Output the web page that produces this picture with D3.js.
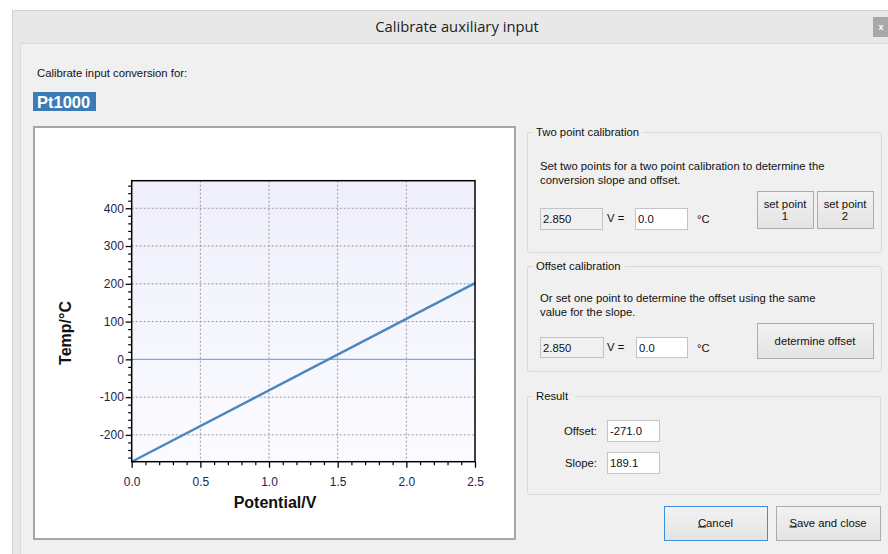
<!DOCTYPE html>
<html><head><meta charset="utf-8">
<script src="https://cdn.jsdelivr.net/npm/d3@7"></script>
<style>html,body{margin:0;padding:0;background:#fff;overflow:hidden}svg{display:block}</style>
</head><body>
<script>
// ---- data ----
const potential = [0.0, 2.5];            // V
const temperature = [-271.0, 201.75];    // °C
const xTicks = [0.0, 0.5, 1.0, 1.5, 2.0, 2.5];
const xTickLabels = ["0.0", "0.5", "1.0", "1.5", "2.0", "2.5"];
const yTicks = [-200, -100, 0, 100, 200, 300, 400];
const yTickLabels = ["-200", "-100", "0", "100", "200", "300", "400"];
const xDomain = [0, 2.5];
const yDomain = [-271, 473];
const resultOffset = "-271.0";
const resultSlope = "189.1";
const voltageReading = "2.850";
const tempEntry = "0.0";

const W = 888, H = 554;
const svg = d3.select("body").append("svg").attr("width", W).attr("height", H);
const UI = "'Liberation Sans', Arial, sans-serif";
const FS = 11.3;

const defs = svg.append("defs");
const pg = defs.append("linearGradient").attr("id", "plotbg").attr("x1", 0).attr("y1", 0).attr("x2", 0).attr("y2", 1);
pg.append("stop").attr("offset", "0%").attr("stop-color", "#efeffc");
pg.append("stop").attr("offset", "100%").attr("stop-color", "#fbfbff");
const bg = defs.append("linearGradient").attr("id", "btnbg").attr("x1", 0).attr("y1", 0).attr("x2", 0).attr("y2", 1);
bg.append("stop").attr("offset", "0%").attr("stop-color", "#f2f2f2");
bg.append("stop").attr("offset", "100%").attr("stop-color", "#e3e3e3");

// ---- dialog frame ----
svg.append("rect").attr("x", 12.5).attr("y", 10.5).attr("width", 880).attr("height", 550)
  .attr("fill", "#e8e8e8").attr("stroke", "#d2d2d2");
svg.append("rect").attr("x", 20.5).attr("y", 43.5).attr("width", 880).attr("height", 520)
  .attr("fill", "#f0f0f0").attr("stroke", "#dadada");
svg.append("text").attr("x", 457).attr("y", 32).attr("text-anchor", "middle")
  .attr("font-family", "'Open Sans', sans-serif").attr("font-size", 14.8).attr("fill", "#222")
  .text("Calibrate auxiliary input");
svg.append("rect").attr("x", 873).attr("y", 17).attr("width", 16).attr("height", 20).attr("fill", "#a8a8a8");
svg.append("text").attr("x", 881).attr("y", 30).attr("text-anchor", "middle")
  .attr("font-family", UI).attr("font-size", 9).attr("font-weight", "bold").attr("fill", "#fff").text("x");

svg.append("text").attr("x", 37).attr("y", 77).attr("font-family", UI).attr("font-size", FS)
  .attr("fill", "#111").text("Calibrate input conversion for:");
svg.append("rect").attr("x", 33).attr("y", 92).attr("width", 63).attr("height", 19).attr("fill", "#3c7bb6");
svg.append("text").attr("x", 37).attr("y", 108).attr("font-family", UI).attr("font-size", 16.5)
  .attr("font-weight", "bold").attr("fill", "#fff").text("Pt1000");

// ---- chart panel ----
svg.append("rect").attr("x", 34).attr("y", 127).attr("width", 481).attr("height", 412)
  .attr("fill", "#fff").attr("stroke", "#a6a6a6").attr("stroke-width", 2);

const L = 131.7, R = 475, T = 180.7, B = 461.7;
const x = d3.scaleLinear().domain(xDomain).range([L, R]);
const y = d3.scaleLinear().domain(yDomain).range([B, T]);

const plot = svg.append("g");
plot.append("rect").attr("x", L).attr("y", T).attr("width", R - L).attr("height", B - T).attr("fill", "url(#plotbg)");

// grid
plot.selectAll(".gx").data(xTicks.slice(1, -1)).join("line")
  .attr("x1", d => x(d)).attr("x2", d => x(d)).attr("y1", T).attr("y2", B)
  .attr("stroke", "#9a9a9a").attr("stroke-width", 1).attr("stroke-dasharray", "2,2");
plot.selectAll(".gy").data(yTicks.filter(d => d !== 0)).join("line")
  .attr("x1", L).attr("x2", R).attr("y1", d => y(d)).attr("y2", d => y(d))
  .attr("stroke", "#9a9a9a").attr("stroke-width", 1).attr("stroke-dasharray", "2,2");
// zero line
plot.append("line").attr("x1", L).attr("x2", R).attr("y1", y(0)).attr("y2", y(0))
  .attr("stroke", "#78a8ee").attr("stroke-width", 1.2);

// data line
const pts = potential.map((v, i) => [v, temperature[i]]);
plot.append("path").datum(pts)
  .attr("d", d3.line().x(d => x(d[0])).y(d => y(d[1])))
  .attr("fill", "none").attr("stroke", "#4a86bf").attr("stroke-width", 2.4);

// axes
const tickColor = "#23234a";
const xMinor = d3.range(0, 2.5001, 0.1).filter(v => Math.abs(v * 2 - Math.round(v * 2)) > 1e-6);
const yMinor = d3.range(-260, 473, 20).filter(v => v % 100 !== 0);

const xAxis = svg.append("g").attr("transform", `translate(0,${B})`)
  .call(d3.axisBottom(x).tickValues(xTicks).tickFormat((d, i) => xTickLabels[i]).tickSize(6).tickSizeOuter(0));
const yAxis = svg.append("g").attr("transform", `translate(${L},0)`)
  .call(d3.axisLeft(y).tickValues(yTicks).tickFormat((d, i) => yTickLabels[i]).tickSize(6).tickSizeOuter(0));
[xAxis, yAxis].forEach(a => {
  a.select(".domain").remove();
  a.selectAll("line").attr("stroke", "#000").attr("stroke-width", 1.3);
  a.selectAll("text").attr("font-family", UI).attr("font-size", 12).attr("fill", tickColor);
});
xAxis.selectAll("text").attr("dy", "1.25em");
yAxis.selectAll("text").attr("dx", "0.1em");
svg.append("g").attr("transform", `translate(0,${B})`)
  .call(d3.axisBottom(x).tickValues(xMinor).tickFormat("").tickSize(3.5).tickSizeOuter(0))
  .call(g => { g.select(".domain").remove(); g.selectAll("line").attr("stroke", "#000").attr("stroke-width", 1.2); });
svg.append("g").attr("transform", `translate(${L},0)`)
  .call(d3.axisLeft(y).tickValues(yMinor).tickFormat("").tickSize(3.5).tickSizeOuter(0))
  .call(g => { g.select(".domain").remove(); g.selectAll("line").attr("stroke", "#000").attr("stroke-width", 1.2); });

// frame
svg.append("rect").attr("x", L).attr("y", T).attr("width", R - L).attr("height", B - T)
  .attr("fill", "none").attr("stroke", "#000").attr("stroke-width", 1.5);

svg.append("text").attr("x", 275).attr("y", 508).attr("text-anchor", "middle")
  .attr("font-family", UI).attr("font-size", 16).attr("font-weight", "bold").attr("fill", "#111")
  .text("Potential/V");
svg.append("text").attr("transform", `translate(71,333) rotate(-90)`).attr("text-anchor", "middle")
  .attr("font-family", UI).attr("font-size", 16).attr("font-weight", "bold").attr("fill", "#111")
  .text("Temp/°C");

// ---- right-hand controls ----
function group(x0, y0, w, h, label, lw) {
  svg.append("rect").attr("x", x0 + 0.5).attr("y", y0 + 0.5).attr("width", w).attr("height", h).attr("rx", 2)
    .attr("fill", "none").attr("stroke", "#d8d8d8");
  svg.append("rect").attr("x", x0 + 6).attr("y", y0 - 6).attr("width", lw).attr("height", 12).attr("fill", "#f0f0f0");
  svg.append("text").attr("x", x0 + 9).attr("y", y0 + 4).attr("font-family", UI).attr("font-size", FS)
    .attr("fill", "#111").text(label);
}
function label(x0, y0, t, anchor) {
  return svg.append("text").attr("x", x0).attr("y", y0).attr("font-family", UI).attr("font-size", FS)
    .attr("fill", "#111").attr("text-anchor", anchor || "start").text(t);
}
function input(x0, y0, w, h, t, grey) {
  svg.append("rect").attr("x", x0 + 0.5).attr("y", y0 + 0.5).attr("width", w).attr("height", h)
    .attr("fill", grey ? "#f0f0f0" : "#fff").attr("stroke", "#c4c4c4");
  label(x0 + 3, y0 + h / 2 + 4.5, t);
}
function button(x0, y0, w, h, lines, focused) {
  svg.append("rect").attr("x", x0 + 0.5).attr("y", y0 + 0.5).attr("width", w).attr("height", h)
    .attr("fill", "url(#btnbg)").attr("stroke", focused ? "#3c8fe0" : "#acacac");
  const n = lines.length;
  lines.forEach((t, i) => {
    label(x0 + w / 2, y0 + h / 2 + 4 + (i - (n - 1) / 2) * 12, t, "middle");
  });
}

group(527, 132, 354, 120, "Two point calibration", 110);
label(540, 170, "Set two points for a two point calibration to determine the");
label(540, 184, "conversion slope and offset.");
input(540, 208, 62, 21, voltageReading, true);
label(607, 222, "V  =");
input(635, 208, 52, 21, tempEntry, false);
label(697, 223, "°C");
button(757, 191, 56, 37, ["set point", "1"]);
button(817, 191, 56, 37, ["set point", "2"]);

group(527, 266, 354, 105, "Offset calibration", 92);
label(540, 302, "Or set one point to determine the offset using the same");
label(540, 316, "value for the slope.");
input(540, 337, 63, 20, voltageReading, true);
label(607, 351, "V  =");
input(636, 337, 51, 20, tempEntry, false);
label(697, 352, "°C");
button(757, 323, 116, 35, ["determine offset"]);

group(527, 396, 353, 98, "Result", 42);
label(597, 435, "Offset:", "end");
input(607, 420, 52, 21, resultOffset, false);
label(597, 467, "Slope:", "end");
input(607, 452, 52, 21, resultSlope, false);

button(664, 506, 103, 34, ["Cancel"], true);
button(776, 506, 104, 34, ["Save and close"]);
// mnemonic underlines
function underline(btnX, btnW, word, letter) {
  const tmp = label(0, -50, word);
  const full = tmp.node().getComputedTextLength();
  tmp.text(letter);
  const lw = tmp.node().getComputedTextLength();
  tmp.remove();
  const sx = btnX + btnW / 2 - full / 2;
  svg.append("line").attr("x1", sx).attr("x2", sx + lw).attr("y1", 527).attr("y2", 527)
    .attr("stroke", "#111").attr("stroke-width", 1);
}
underline(664, 103, "Cancel", "C");
underline(776, 104, "Save and close", "S");
</script>
</body></html>
